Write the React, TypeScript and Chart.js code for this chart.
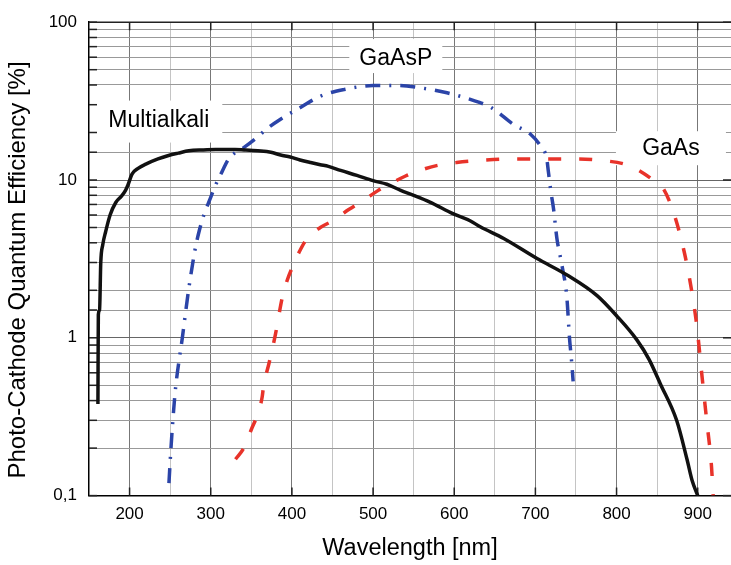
import React, { useEffect, useRef } from 'react';
import { Chart, registerables } from 'chart.js';

Chart.register(...registerables);

// ---- Data (wavelength in nm, quantum efficiency in %) ----
const multialkaliWavelength = [161, 161.5, 163, 164.5, 167, 170.5, 176, 183, 190, 195, 198, 203, 210, 220, 235, 248, 260, 273, 290, 306, 330, 341, 358, 374, 386, 398, 410, 423, 435, 445, 460, 480, 500, 517, 534, 550, 570, 599, 620, 632, 661, 702, 739, 776, 800, 825, 840, 854, 874, 887, 893, 900];
const multialkaliQE = [0.38, 1.4, 1.5, 3.0, 3.9, 4.7, 6.0, 7.2, 7.9, 8.6, 9.3, 10.9, 11.8, 12.6, 13.6, 14.3, 14.8, 15.3, 15.5, 15.6, 15.6, 15.5, 15.3, 15.0, 14.4, 14.0, 13.4, 12.9, 12.5, 12.2, 11.5, 10.7, 9.9, 9.4, 8.6, 8.0, 7.25, 6.1, 5.5, 5.05, 4.26, 3.18, 2.5, 1.85, 1.38, 0.97, 0.73, 0.51, 0.30, 0.168, 0.125, 0.1];

const gaAsPWavelength = [248.5, 251, 254.5, 257, 261, 265, 269, 273, 277, 281, 286, 291.5, 299.7, 306, 314, 322, 331, 341, 357, 370, 386, 410, 435, 464, 500, 530, 558, 591, 632, 646, 673, 694, 706, 714, 716, 719, 722.3, 726.5, 732.6, 738.8, 742, 744.5, 746.5];
const gaAsPQE = [0.12, 0.2, 0.36, 0.5, 0.72, 1.0, 1.45, 2.06, 2.8, 3.7, 4.8, 6.0, 7.7, 9.3, 11.3, 13.6, 15.0, 16.1, 18.6, 21.3, 24.3, 28.7, 34, 37.4, 39.7, 39.7, 38.4, 35.7, 30.9, 28.7, 22.5, 19.5, 16.5, 13.6, 11.3, 8.5, 6.6, 4.26, 2.9, 1.79, 1.0, 0.72, 0.53];

const gaAsWavelength = [330.5, 340.7, 351, 357, 363.3, 365.2, 371.5, 379.7, 388, 394, 400, 409, 418.7, 435, 451.5, 470, 488.4, 505, 521, 540, 562, 580, 603, 632, 677, 714, 751, 788, 810, 825, 845, 857.7, 870, 882.4, 890.6, 898.8, 905, 911, 917, 919];
const gaAsQE = [0.17, 0.2, 0.27, 0.32, 0.42, 0.5, 0.68, 1.05, 1.79, 2.3, 2.76, 3.5, 4.26, 5.0, 5.56, 6.5, 7.43, 8.5, 9.45, 10.6, 11.7, 12.4, 12.9, 13.3, 13.6, 13.6, 13.6, 13.2, 12.6, 11.7, 10.0, 8.8, 6.27, 3.68, 2.27, 1.2, 0.59, 0.3, 0.152, 0.1];

// Axis ticks
const xMin = 150;
const xMax = 941;
const xGridValues = [150, 200, 250, 300, 350, 400, 450, 500, 550, 600, 650, 700, 750, 800, 850, 900];
const xLabelValues = [200, 300, 400, 500, 600, 700, 800, 900];
const yTickValues = [0.1, 1, 10, 100];
const yTickLabels = ['0,1', '1', '10', '100'];
const yTitle = 'Photo-Cathode Quantum Efficiency [%]';
const xTitle = 'Wavelength [nm]';

// Curve labels (anchored at wavelength / QE)
const labelTexts = ['Multialkali', 'GaAsP', 'GaAs'];
const labelWavelengths = [236, 528, 867];
const labelQE = [23.8, 58.4, 15.9];

const FONT = '"Liberation Sans", Arial, Helvetica, sans-serif';

const toPoints = (xs: number[], ys: number[]) => xs.map((x, i) => ({ x, y: ys[i] }));

const isDecade = (v: number) => Math.abs(Math.log10(v) - Math.round(Math.log10(v))) < 1e-6;

const labelBoxes = [
  { w: 127, h: 42, dy: 1 },
  { w: 93, h: 34, dy: -3 },
  { w: 110, h: 34, dy: 0 },
];

const labelPlugin = {
  id: 'curveLabels',
  beforeDatasetsDraw(chart: any) {
    const { ctx, scales } = chart;
    ctx.save();
    labelTexts.forEach((t, i) => {
      const cx = scales.x.getPixelForValue(labelWavelengths[i]);
      const cy = scales.y.getPixelForValue(labelQE[i]);
      const b = labelBoxes[i];
      ctx.fillStyle = '#ffffff';
      ctx.fillRect(cx - b.w / 2, cy - b.h / 2 + b.dy, b.w, b.h);
      ctx.fillStyle = '#000000';
      ctx.font = `23px ${FONT}`;
      ctx.textAlign = 'center';
      ctx.textBaseline = 'middle';
      ctx.fillText(t, cx, cy);
    });
    ctx.restore();
  },
  afterDraw(chart: any) {
    const { ctx } = chart;
    ctx.save();
    ctx.translate(18, 270);
    ctx.rotate(-Math.PI / 2);
    ctx.fillStyle = '#000';
    ctx.font = `24px ${FONT}`;
    ctx.textAlign = 'center';
    ctx.textBaseline = 'middle';
    ctx.fillText(yTitle, 0, 0);
    ctx.restore();
  },
};

const framePlugin = {
  id: 'frameTicks',
  beforeDatasetsDraw(chart: any) {
    const { ctx, chartArea, scales } = chart;
    const { left, right, top, bottom } = chartArea;
    ctx.save();
    ctx.strokeStyle = '#222';
    ctx.lineWidth = 1.5;
    ctx.beginPath();
    ctx.moveTo(left, top);
    ctx.lineTo(right, top);
    ctx.stroke();
    xLabelValues.forEach((v) => {
      const px = scales.x.getPixelForValue(v);
      ctx.beginPath();
      ctx.moveTo(px, bottom);
      ctx.lineTo(px, bottom - 8);
      ctx.moveTo(px, top);
      ctx.lineTo(px, top + 8);
      ctx.stroke();
    });
    scales.y.ticks.forEach((t: any) => {
      const py = scales.y.getPixelForValue(t.value);
      ctx.beginPath();
      ctx.moveTo(left, py);
      ctx.lineTo(left + 8, py);
      ctx.stroke();
      if (isDecade(t.value)) {
        ctx.beginPath();
        ctx.moveTo(right, py);
        ctx.lineTo(right - 8, py);
        ctx.stroke();
      }
    });
    ctx.restore();
  },
};

export default function App() {
  const ref = useRef<HTMLCanvasElement>(null);
  useEffect(() => {
    if (!ref.current) return;
    const chart = new Chart(ref.current, {
      type: 'line',
      data: {
        datasets: [
          {
            label: 'Multialkali',
            data: toPoints(multialkaliWavelength, multialkaliQE),
            borderColor: '#111111',
            borderWidth: 3.5,
            pointRadius: 0,
            cubicInterpolationMode: 'monotone',
            fill: false,
          },
          {
            label: 'GaAsP',
            data: toPoints(gaAsPWavelength, gaAsPQE),
            borderColor: '#2b44a8',
            borderWidth: 3.5,
            borderDash: [15, 9, 2, 9],
            pointRadius: 0,
            cubicInterpolationMode: 'monotone',
            fill: false,
          },
          {
            label: 'GaAs',
            data: toPoints(gaAsWavelength, gaAsQE),
            borderColor: '#e8332a',
            borderWidth: 3.5,
            borderDash: [13, 18],
            pointRadius: 0,
            cubicInterpolationMode: 'monotone',
            fill: false,
          },
        ],
      },
      options: {
        animation: false,
        responsive: false,
        layout: { autoPadding: false, padding: { top: 19, right: 0, left: 0, bottom: 0 } },
        plugins: { legend: { display: false }, tooltip: { enabled: false } },
        scales: {
          x: {
            type: 'linear',
            min: xMin,
            max: xMax,
            afterBuildTicks: (s: any) => { s.ticks = xGridValues.map((v) => ({ value: v })); },
            afterFit: (s: any) => { s.height = 69.4; },
            ticks: {
              autoSkip: false,
              maxRotation: 0,
              color: '#000',
              padding: 9,
              font: { family: FONT, size: 17 },
              callback: (v: any) => (xLabelValues.includes(Number(v)) ? String(v) : ''),
            },
            grid: {
              drawTicks: false,
              lineWidth: 1,
              color: (ctx: any) => {
                const v = ctx.tick ? ctx.tick.value : 0;
                if (v <= xMin || v >= xMax) return 'rgba(0,0,0,0)';
                return v % 100 === 0 ? '#777777' : '#c4c4c4';
              },
            },
            border: { color: '#000', width: 1.5 },
            title: {
              display: true,
              text: xTitle,
              color: '#000',
              font: { family: FONT, size: 23.5 },
              padding: { top: 0, bottom: 2 },
            },
          },
          y: {
            type: 'logarithmic',
            min: 0.1,
            max: 100,
            afterFit: (s: any) => { s.width = 89; },
            ticks: {
              autoSkip: false,
              color: '#000',
              padding: 12,
              font: { family: FONT, size: 17 },
              callback: (v: any) => {
                const idx = yTickValues.findIndex((t) => Math.abs(t - Number(v)) < 1e-9 * Math.max(1, t));
                return idx >= 0 ? yTickLabels[idx] : '';
              },
            },
            grid: {
              drawTicks: false,
              lineWidth: 1,
              color: (ctx: any) => {
                const v = ctx.tick ? ctx.tick.value : 1;
                return isDecade(v) ? '#666666' : '#999999';
              },
            },
            border: { color: '#000', width: 1.5 },
            title: { display: false },
          },
        },
      } as any,
      plugins: [labelPlugin, framePlugin],
    });
    return () => chart.destroy();
  }, []);
  return (
    <div style={{ position: 'absolute', left: 0, top: 0, width: 731, height: 565 }}>
      <canvas ref={ref} width={731} height={565} style={{ display: 'block' }} />
    </div>
  );
}
